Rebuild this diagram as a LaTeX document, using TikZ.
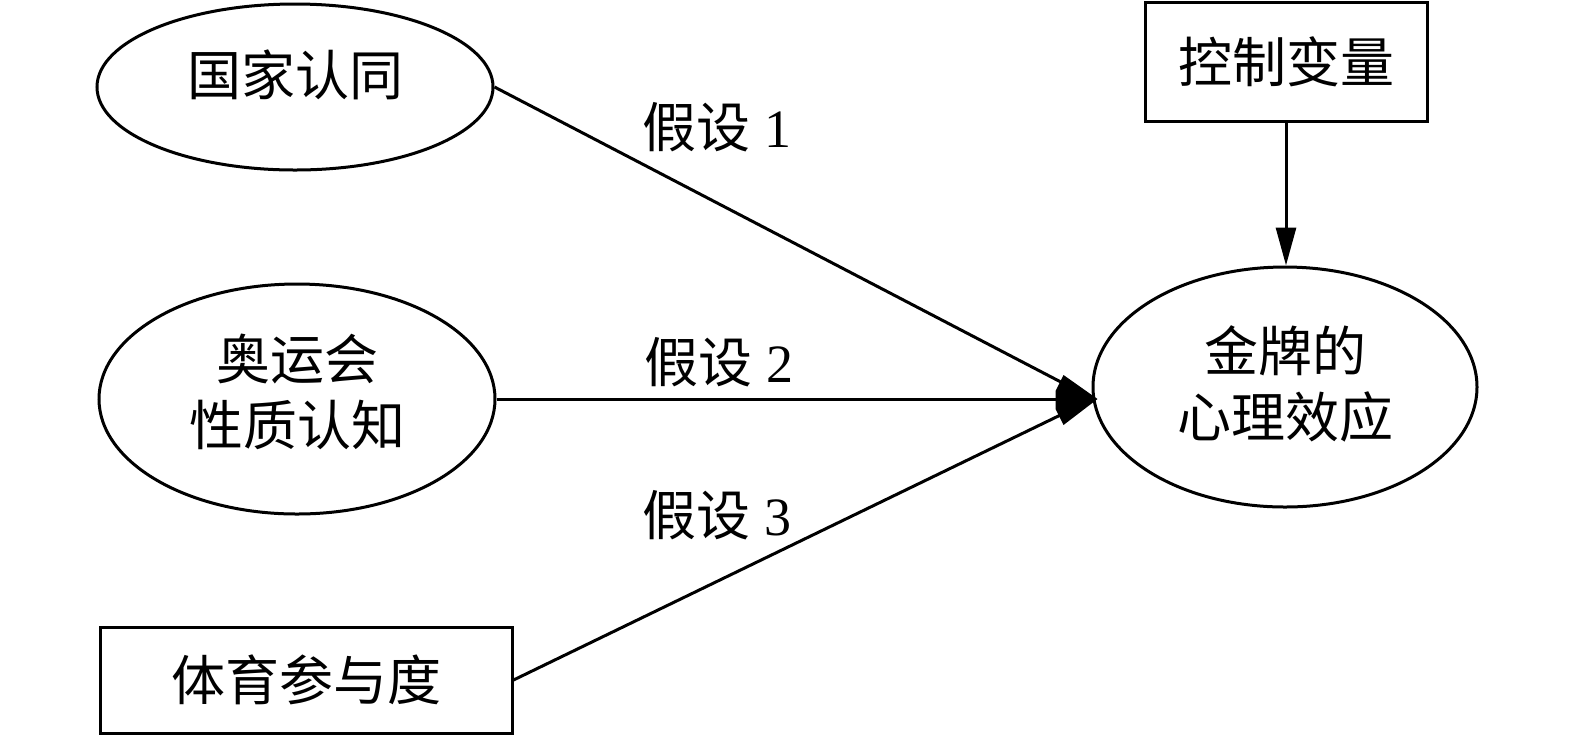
\documentclass[tikz,border=0pt]{standalone}
\usepackage{fontspec}
\setmainfont{Liberation Serif}
\newfontfamily\cjk{Noto Sans CJK SC}
\usetikzlibrary{shapes.geometric,arrows.meta}
\begin{document}
\begin{tikzpicture}[x=0.5pt,y=-0.5pt,
  txt/.style={font=\fontsize{27}{33}\selectfont\cjk, align=center},
  ell/.style={draw, line width=1.5pt, ellipse, inner sep=0pt},
  box/.style={draw, line width=1.5pt, rectangle, inner sep=0pt, txt},
  conn/.style={line width=1.5pt},
  lab/.style={font=\fontsize{27}{34}\selectfont, inner sep=0pt}]
\useasboundingbox (0,0) rectangle (1575,736);
\node[ell, minimum width=198pt, minimum height=83pt,
  label={[txt, yshift=6pt]center:国家认同}] (a) at (295,87) {};
\node[ell, minimum width=198pt, minimum height=115pt,
  label={[txt, yshift=3.5pt]center:奥运会\\性质认知}] (b) at (297,399) {};
\node[box, minimum width=206pt, minimum height=53pt] (c) at (306,680) {\raisebox{0pt}{体育参与度}};
\node[box, minimum width=141pt, minimum height=59.5pt] (d) at (1286,61.5) {控制变量};
\node[ell, minimum width=192pt, minimum height=120pt,
  label={[txt, yshift=1.5pt]center:金牌的\\心理效应}] (t) at (1285,387) {};
\node[lab] (l1) at (717,127) {{\cjk 假设} 1};
\node[lab] (l2) at (719,362) {{\cjk 假设} 2};
\node[lab] (l3) at (717,515) {{\cjk 假设} 3};
\coordinate (tip) at ([xshift=1]t.west |- b.east);
\draw[conn] (a.east) -- (tip);
\draw[conn] (b.east) -- (tip);
\draw[conn] (c.east) -- (tip);
\fill ([xshift=2]tip) -- ++(-34,-24) -- ++(-8,16) -- ++(0,18) -- ++(8,16) -- cycle;
\draw[conn, -{Triangle[length=19pt,width=10pt]}] (d.south) -- (d.south |- t.north);
\end{tikzpicture}
\end{document}
